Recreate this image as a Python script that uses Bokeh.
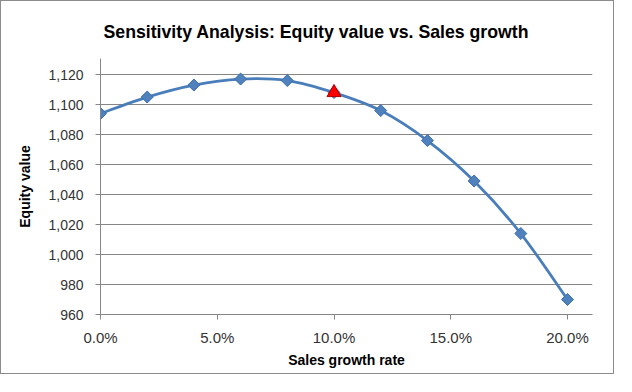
from bokeh.plotting import figure
from bokeh.models import Range1d, FixedTicker, NumeralTickFormatter, ColumnDataSource
from bokeh.embed import file_html
from bokeh.resources import INLINE

# ---- data ----
growth = [0.00, 0.02, 0.04, 0.06, 0.08, 0.10, 0.12, 0.14, 0.16, 0.18, 0.20]
equity = [1094, 1105, 1113, 1117, 1116, 1108, 1096, 1076, 1049, 1014, 970]
base_growth = [0.10]
base_equity = [1108]
x_ticks = [0.0, 0.05, 0.10, 0.15, 0.20]
y_ticks = [960, 980, 1000, 1020, 1040, 1060, 1080, 1100, 1120]

TITLE = "Sensitivity Analysis: Equity value vs. Sales growth"
XLABEL = "Sales growth rate"
YLABEL = "Equity value"

FONT = "Liberation Sans"
LINE_C = "#4A7EBB"
GRID_C = "#868686"

p = figure(width=614, height=374, output_backend="svg", toolbar_location=None,
           x_range=Range1d(0, 0.2107), y_range=Range1d(960, 1130.7),
           min_border_left=99, min_border_right=23, min_border_top=57, min_border_bottom=61,
           styles={"border": "1px solid #8c8c8c"})

p.title.text = TITLE
p.title.text_font = FONT
p.title.text_font_size = "17.7px"
p.title.text_font_style = "bold"
p.title.align = "left"
p.title.offset = 3
p.title.standoff = 34
p.title.text_color = "#000000"

p.outline_line_color = None
p.xgrid.visible = False
p.ygrid.ticker = FixedTicker(ticks=y_ticks)
p.ygrid.grid_line_color = GRID_C
p.ygrid.grid_line_width = 1

for ax in (p.xaxis[0], p.yaxis[0]):
    ax.axis_line_color = GRID_C
    ax.major_tick_line_color = GRID_C
    ax.major_tick_out = 5
    ax.major_tick_in = 0
    ax.minor_tick_line_color = None
    ax.major_label_text_font = FONT
    ax.major_label_text_color = "#333333"
    ax.axis_label_text_font = FONT
    ax.axis_label_text_font_style = "bold"
    ax.axis_label_text_font_size = "14px"
    ax.axis_label_text_color = "#000000"

p.xaxis.ticker = FixedTicker(ticks=x_ticks)
p.xaxis.formatter = NumeralTickFormatter(format="0.0%")
p.xaxis.major_label_text_font_size = "15px"
p.xaxis.major_label_standoff = 9
p.xaxis.axis_label = XLABEL
p.xaxis.axis_label_standoff = 3

p.yaxis.ticker = FixedTicker(ticks=y_ticks)
p.yaxis.formatter = NumeralTickFormatter(format="0,0")
p.yaxis.major_label_text_font_size = "14px"
p.yaxis.major_label_standoff = 12
p.yaxis.axis_label = YLABEL
p.yaxis.axis_label_standoff = 12

# smooth line (Excel-like): cubic Bezier segments with Catmull-Rom control points
n = len(growth)
def pt(i):
    i = max(0, min(n - 1, i))
    return growth[i], equity[i]
segs = dict(x0=[], y0=[], x1=[], y1=[], cx0=[], cy0=[], cx1=[], cy1=[])
for i in range(n - 1):
    xa, ya = pt(i - 1); xb, yb = pt(i); xc, yc = pt(i + 1); xd, yd = pt(i + 2)
    segs["x0"].append(xb); segs["y0"].append(yb)
    segs["x1"].append(xc); segs["y1"].append(yc)
    segs["cx0"].append(xb + (xc - xa) / 6); segs["cy0"].append(yb + (yc - ya) / 6)
    segs["cx1"].append(xc - (xd - xb) / 6); segs["cy1"].append(yc - (yd - yb) / 6)
p.bezier(x0="x0", y0="y0", x1="x1", y1="y1", cx0="cx0", cy0="cy0", cx1="cx1", cy1="cy1",
         source=ColumnDataSource(segs), line_color=LINE_C, line_width=2.8)

p.scatter(growth, equity, marker="square", angle=0.785398, size=8.5,
          fill_color="#4F81BD", line_color="#3F6FAA", line_width=1)
p.scatter(base_growth, base_equity, marker="triangle", size=14,
          fill_color="#FF0000", line_color="#B00000", line_width=1)

open("out.html", "w").write(file_html(p, INLINE))
